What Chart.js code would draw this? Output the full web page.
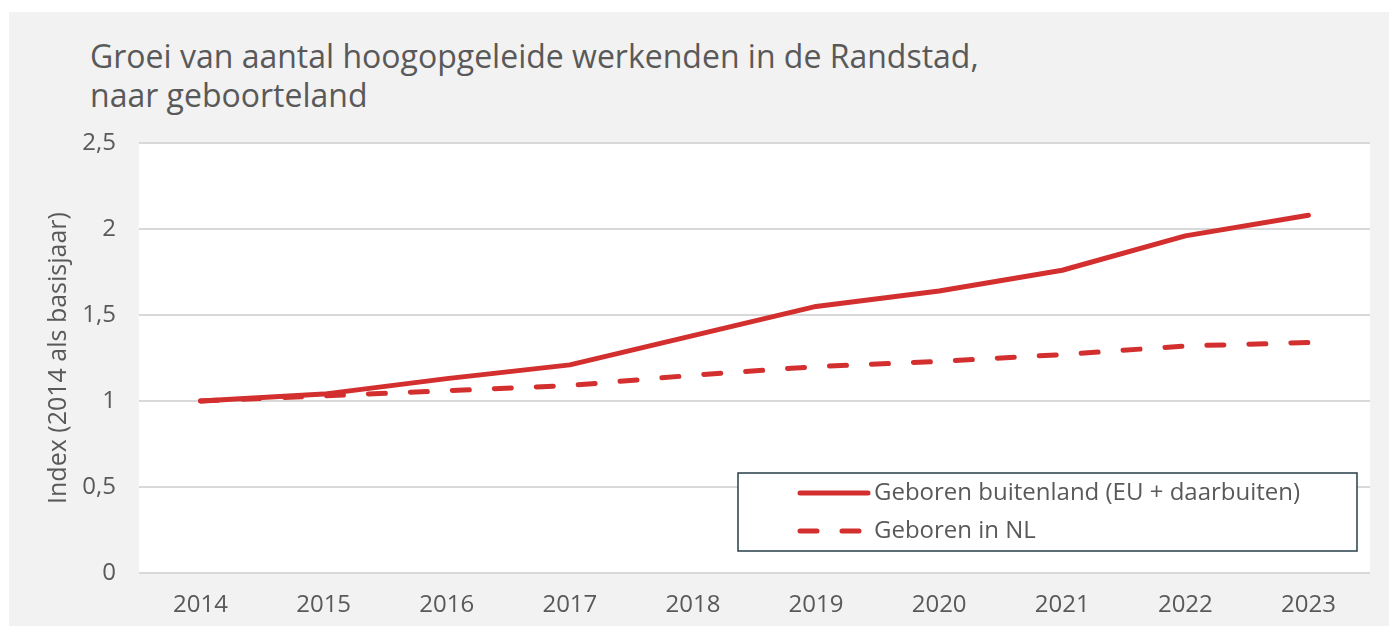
<!DOCTYPE html>
<html>
<head>
<meta charset="utf-8">
<script src="https://cdn.jsdelivr.net/npm/chart.js@4/dist/chart.umd.min.js"></script>
<style>
  html, body { margin: 0; padding: 0; background: #ffffff; }
  #paneel {
    position: absolute; left: 9px; top: 12px; width: 1380px; height: 614px;
    background: #f2f2f2; overflow: hidden;
  }
  #titel {
    position: absolute; left: 81px; top: 24px;
    font-family: "Open Sans", sans-serif; font-size: 32px; line-height: 39px;
    color: #595959; white-space: nowrap;
  }
  #grafiek { position: absolute; left: 0; top: 113px; }
</style>
</head>
<body>
<div id="paneel">
  <div id="titel">Groei van aantal hoogopgeleide werkenden in de Randstad,<br>naar geboorteland</div>
  <canvas id="grafiek" width="1380" height="501"></canvas>
</div>
<script>
const jaren = ["2014", "2015", "2016", "2017", "2018", "2019", "2020", "2021", "2022", "2023"];
const buitenland = [1.00, 1.04, 1.13, 1.21, 1.38, 1.55, 1.64, 1.76, 1.96, 2.08];
const inNL = [1.00, 1.03, 1.06, 1.09, 1.15, 1.20, 1.23, 1.27, 1.32, 1.34];
const yTicks = [0, 0.5, 1, 1.5, 2, 2.5];

const rood = "#d32f2f";
const grijsTekst = "#595959";
const lettertype = "'Open Sans', sans-serif";

// witte plotachtergrond
const plotAchtergrond = {
    id: "plotAchtergrond",
    beforeDraw(chart) {
        const a = chart.chartArea;
        const ctx = chart.ctx;
        ctx.save();
        ctx.fillStyle = "#ffffff";
        ctx.fillRect(a.left, a.top, a.right - a.left, a.bottom - a.top);
        ctx.restore();
    }
};

// legenda in een kader rechtsonder in het plotvlak
const kaderLegenda = {
    id: "kaderLegenda",
    afterDatasetsDraw(chart) {
        const a = chart.chartArea;
        const ctx = chart.ctx;
        const w = 619, h = 78;
        const x = a.right - 13 - w;
        const y = a.bottom - 22 - h;
        ctx.save();
        ctx.fillStyle = "#ffffff";
        ctx.fillRect(x, y, w, h);
        ctx.strokeStyle = "#263f48";
        ctx.lineWidth = 1.5;
        ctx.strokeRect(x, y, w, h);

        chart.data.datasets.forEach((ds, i) => {
            const cy = y + 20 + i * 38;
            ctx.beginPath();
            ctx.strokeStyle = ds.borderColor;
            ctx.lineWidth = ds.borderWidth;
            ctx.lineCap = "round";
            ctx.setLineDash(ds.borderDash || []);
            ctx.moveTo(x + 62, cy);
            ctx.lineTo(x + 130, cy);
            ctx.stroke();
            ctx.setLineDash([]);
            ctx.fillStyle = grijsTekst;
            ctx.font = "24px " + lettertype;
            ctx.textBaseline = "middle";
            ctx.textAlign = "left";
            ctx.fillText(ds.label, x + 136, cy);
        });
        ctx.restore();
    }
};

new Chart(document.getElementById("grafiek"), {
    type: "line",
    data: {
        labels: jaren,
        datasets: [
            {
                label: "Geboren buitenland (EU + daarbuiten)",
                data: buitenland,
                borderColor: rood,
                borderWidth: 5,
                borderCapStyle: "round",
                borderJoinStyle: "round",
                pointRadius: 0,
                tension: 0,
                fill: false
            },
            {
                label: "Geboren in NL",
                data: inNL,
                borderColor: rood,
                borderWidth: 5,
                borderDash: [17, 25],
                borderCapStyle: "round",
                pointRadius: 0,
                tension: 0,
                fill: false
            }
        ]
    },
    options: {
        responsive: false,
        animation: false,
        layout: { padding: { left: 0, right: 19, top: 18, bottom: 0 } },
        plugins: {
            legend: { display: false },
            title: { display: false },
            tooltip: { enabled: false }
        },
        scales: {
            x: {
                offset: true,
                grid: { display: false },
                border: { display: false },
                ticks: {
                    color: grijsTekst,
                    font: { family: lettertype, size: 24 },
                    padding: 10,
                    maxRotation: 0
                },
                afterFit(scale) { scale.height = 53; }
            },
            y: {
                min: 0,
                max: 2.5,
                afterBuildTicks(scale) {
                    scale.ticks = yTicks.map(v => ({ value: v }));
                },
                grid: {
                    color: "#d9d9d9",
                    lineWidth: 2,
                    drawTicks: false
                },
                border: { display: false },
                ticks: {
                    color: grijsTekst,
                    font: { family: lettertype, size: 24 },
                    padding: 23,
                    callback: v => String(v).replace(".", ",")
                },
                title: {
                    display: true,
                    text: "Index (2014 als basisjaar)",
                    color: grijsTekst,
                    font: { family: lettertype, size: 25 },
                    padding: { top: 35, bottom: 0 }
                },
                afterFit(scale) {
                    scale.width = 130;
                    scale.paddingTop = 0;
                    scale.paddingBottom = 0;
                }
            }
        }
    },
    plugins: [plotAchtergrond, kaderLegenda]
});
</script>
</body>
</html>
